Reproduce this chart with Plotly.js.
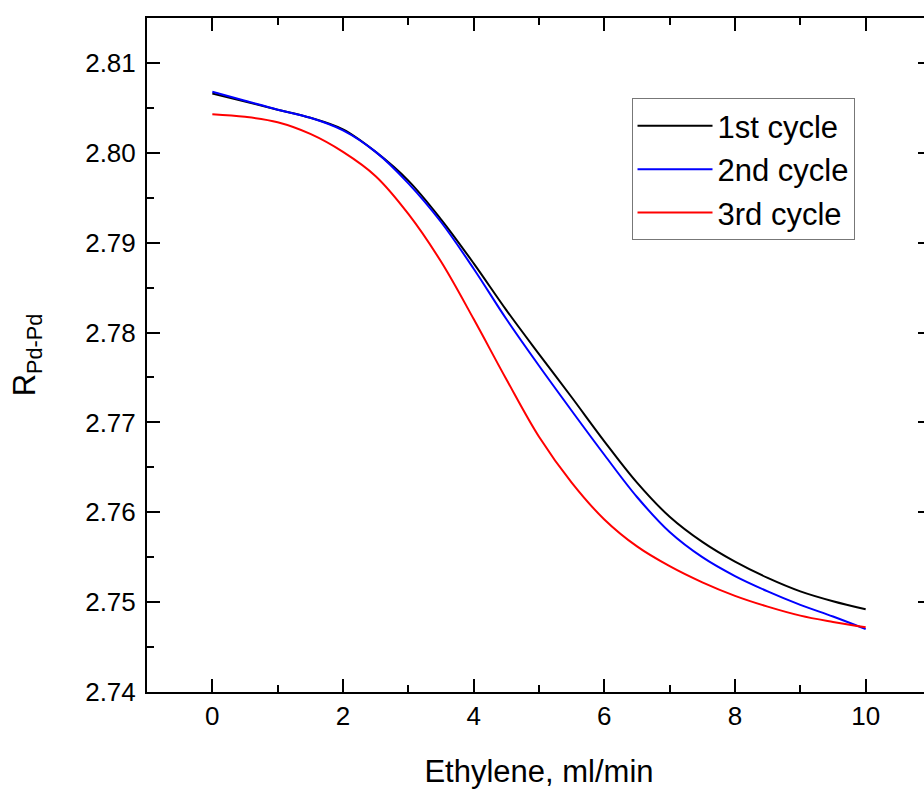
<!DOCTYPE html>
<html>
<head>
<meta charset="utf-8">
<script src="https://cdn.plot.ly/plotly-3.0.1.min.js"></script>
<style>
html, body { margin: 0; padding: 0; overflow: hidden; background: #fff; }
#chart { width: 940px; height: 790px; }
</style>
</head>
<body>
<div id="chart"></div>
<script>
const flow = [0, 0.5, 1, 1.5, 2, 2.5, 3, 3.5, 4, 4.5, 5, 5.5, 6, 6.5, 7, 7.5, 8, 8.5, 9, 9.5, 10];
const cycle1 = [2.8066, 2.8057, 2.8048, 2.8039, 2.8026, 2.8001, 2.7969, 2.7926, 2.7877, 2.7825, 2.7776, 2.7728, 2.7679, 2.7633, 2.7595, 2.7567, 2.7545, 2.7527, 2.7512, 2.7501, 2.7492];
const cycle2 = [2.8068, 2.8058, 2.8048, 2.8039, 2.8025, 2.8001, 2.7966, 2.7923, 2.7871, 2.7815, 2.7763, 2.7713, 2.7664, 2.7617, 2.7578, 2.7550, 2.7529, 2.7512, 2.7497, 2.7484, 2.7470];
const cycle3 = [2.8043, 2.8040, 2.8034, 2.8021, 2.8001, 2.7974, 2.7932, 2.7879, 2.7815, 2.7748, 2.7684, 2.7633, 2.7592, 2.7562, 2.7540, 2.7522, 2.7507, 2.7495, 2.7485, 2.7478, 2.7472];
const seriesNames = ['1st cycle', '2nd cycle', '3rd cycle'];
const seriesColors = ['#000000', '#0000ff', '#ff0000'];
const xTicks = [0, 2, 4, 6, 8, 10];
const yTicks = [2.74, 2.75, 2.76, 2.77, 2.78, 2.79, 2.80, 2.81];

const F = 'Liberation Sans, Arial, sans-serif';
const traces = [cycle1, cycle2, cycle3].map((ys, i) => ({
  x: flow, y: ys, type: 'scatter', mode: 'lines', name: seriesNames[i],
  line: { color: seriesColors[i], width: 2, shape: 'spline', smoothing: 1 }
}));

const axisCommon = {
  showgrid: false, zeroline: false, showline: true, linecolor: '#000', linewidth: 2,
  mirror: 'ticks', ticks: 'inside', ticklen: 13, tickwidth: 2, tickcolor: '#000',
  tickfont: { family: F, size: 26, color: '#000' }
};

const layout = {
  width: 940, height: 790,
  margin: { l: 147, r: 7, t: 18, b: 97 },
  paper_bgcolor: '#fff', plot_bgcolor: '#fff',
  showlegend: true,
  legend: {
    x: 0.618, y: 0.881, xanchor: 'left', yanchor: 'top',
    bordercolor: '#777', borderwidth: 1, bgcolor: '#fff',
    font: { family: F, size: 31, color: '#000' },
    itemwidth: 75,
    tracegroupgap: 0
  },
  xaxis: Object.assign({}, axisCommon, {
    range: [-1, 11], tickvals: xTicks, ticktext: xTicks.map(String),
    minor: { dtick: 1, tick0: 0, ticks: 'inside', ticklen: 7, tickwidth: 2, tickcolor: '#000' },
    automargin: true,
    title: { text: 'Ethylene, ml/min', font: { family: F, size: 31, color: '#000' }, standoff: 30 }
  }),
  yaxis: Object.assign({}, axisCommon, {
    range: [2.74, 2.815], tickvals: yTicks, ticktext: yTicks.map(v => v.toFixed(2)),
    minor: { dtick: 0.005, tick0: 2.74, ticks: 'inside', ticklen: 7, tickwidth: 2, tickcolor: '#000' },
    ticklabelstandoff: 4,
    automargin: true,
    title: { text: 'R<sub>Pd-Pd</sub>', font: { family: F, size: 31, color: '#000' }, standoff: 40 }
  })
};

Plotly.newPlot('chart', traces, layout, { displayModeBar: false, staticPlot: true });
</script>
</body>
</html>
